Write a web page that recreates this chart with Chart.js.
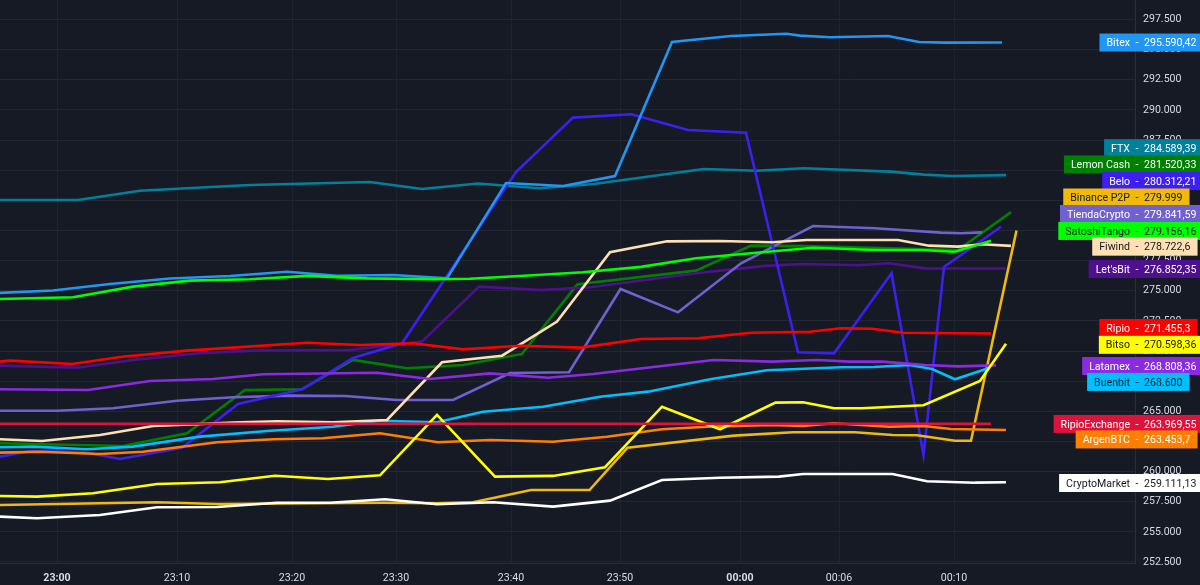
<!DOCTYPE html>
<html>
<head>
    <title>Dólar cripto por exchange</title>
    <script src="https://cdn.jsdelivr.net/npm/chart.js"></script>
    <style>
        html, body { margin: 0; background: #161a25; }
        canvas { display: block; }
    </style>
</head>
<body>
    <canvas id="priceChart" width="1200" height="585"></canvas>

    <script>
        // Eje X: posición de barra (las velas no son uniformes en el tiempo)
        const timeBars = [5.7, 17.7, 29.2, 39.6, 51.1, 62, 74, 83.9, 95.4];
        const timeLabels = ['23:00', '23:10', '23:20', '23:30', '23:40', '23:50', '00:00', '00:06', '00:10'];
        const boldLabels = ['23:00', '00:00'];
        const priceTicks = [252500, 255000, 257500, 260000, 262500, 265000, 267500, 270000, 272500, 275000, 277500, 280000, 282500, 285000, 287500, 290000, 292500, 295000, 297500];

        const bitexBars = [0, 5.3, 11, 17, 23, 28.7, 33.7, 39.3, 44.7, 50.6, 56.3, 61.5, 67.2, 73.1, 78.65, 80, 83, 88.8, 91.9, 94.5, 100.2];
        const bitexValues = [274820, 275020, 275560, 276020, 276230, 276580, 276250, 276310, 276030, 283940, 283690, 284520, 295640, 296130, 296320, 296160, 296030, 296130, 295640, 295580, 295590];

        const ftxBars = [0, 7.8, 14, 18.7, 25, 37, 42.2, 47.8, 53.9, 59.4, 70.4, 75.6, 80.4, 89, 92.4, 95.2, 100.6];
        const ftxValues = [282530, 282530, 283300, 283500, 283770, 284020, 283440, 283900, 283500, 283860, 285100, 284960, 285160, 284880, 284630, 284520, 284589];

        const lemonBars = [0, 12.3, 18.7, 24.5, 30.2, 35.3, 40.7, 46.3, 52.2, 57.75, 69.6, 75.1, 80.3, 95.8, 101.1];
        const lemonValues = [262350, 262120, 263180, 266770, 266830, 269260, 268570, 268840, 269760, 275540, 276670, 278740, 278710, 278380, 281520];

        const beloBars = [0, 3, 8.3, 12, 18.2, 23.8, 30.2, 35.3, 40.2, 51.6, 57.3, 63.15, 68.8, 74.6, 79.8, 83.4, 89.15, 92.35, 94.4, 100.1];
        const beloValues = [261240, 261710, 261630, 261050, 261980, 265610, 266830, 269420, 270640, 284850, 289360, 289640, 288340, 288110, 269900, 269810, 276450, 261380, 276980, 280312];

        const binanceBars = [0, 15.7, 21.7, 38.3, 43.7, 47.3, 53.1, 58.95, 62.75, 73.4, 79.3, 85.5, 89.25, 91.7, 95.5, 97.1, 101.65];
        const binanceValues = [257230, 257450, 257310, 257420, 257370, 257450, 258470, 258470, 261980, 262980, 263260, 263260, 263040, 263010, 262560, 262560, 279999];

        const tiendaBars = [0, 5.7, 11.3, 17.7, 23.3, 29, 34.5, 39.7, 45.3, 51, 56.9, 62.05, 67.8, 74.1, 81.3, 87.5, 94.1, 96.1, 98.2];
        const tiendaValues = [265050, 265050, 265250, 265880, 266160, 266300, 266270, 265940, 265940, 268180, 268240, 275150, 273210, 277280, 280370, 280180, 279820, 279770, 279841];

        const satoshiBars = [0, 7.3, 13.3, 19, 25, 30.7, 36.7, 43.3, 47, 52, 58.3, 64.1, 69.6, 75.1, 81.3, 87.5, 92, 95.5, 99.1];
        const satoshiValues = [274320, 274460, 275340, 275840, 275950, 276230, 276030, 275950, 276000, 276230, 276530, 276980, 277690, 278110, 278570, 278380, 278380, 278240, 279156];

        const fiwindBars = [0, 4.2, 10, 15.3, 23.3, 27.7, 33.3, 38.7, 44.2, 50.2, 52.4, 55.7, 61, 66.7, 72, 77.2, 80.65, 89.8, 92.9, 95.8, 98.2, 101.1];
        const fiwindValues = [262680, 262540, 263040, 263780, 264060, 264170, 264090, 264280, 269070, 269610, 270730, 272440, 278190, 279100, 279130, 279020, 279210, 279210, 278740, 278660, 278860, 278723];

        const letsbitBars = [0, 7.7, 13.3, 20, 25.3, 35, 42.2, 47.9, 54.1, 59, 69.6, 76.5, 80.3, 85.8, 88.9, 92.5, 100.6];
        const letsbitValues = [268790, 268620, 269260, 269810, 270030, 270090, 270780, 275340, 275060, 275290, 276450, 277060, 277220, 277110, 277280, 276860, 276852];

        const ripioBars = [0, 1, 7.2, 12.2, 18.7, 30.7, 36, 41.3, 46.3, 52.1, 58.1, 64.1, 69.8, 75.1, 81, 84.1, 87.2, 90.3, 99.1];
        const ripioValues = [269120, 269200, 268930, 269530, 270030, 270690, 270500, 270640, 270140, 270440, 270280, 271000, 271060, 271520, 271600, 271890, 271850, 271520, 271455];

        const bitsoBars = [0, 3.7, 9.3, 15.7, 22, 27.5, 32.8, 38, 43.7, 49.5, 55.3, 60.5, 66.2, 72, 77.55, 80.3, 83.4, 86.2, 92.35, 98, 100.6];
        const bitsoValues = [257980, 257920, 258200, 258970, 259110, 259660, 259390, 259690, 264700, 259580, 259640, 260360, 265380, 263510, 265720, 265750, 265250, 265250, 265500, 267520, 270598];

        const latamexBars = [0, 8.8, 15, 21.3, 26.3, 37.7, 43, 49, 54.8, 59.3, 71.35, 77.2, 81.7, 84.95, 88.2, 92.5, 95.8, 99.6];
        const latamexValues = [266830, 266770, 267520, 267680, 268070, 268200, 267680, 268150, 267790, 268100, 269260, 269120, 269260, 269120, 269120, 268840, 268730, 268808];

        const buenbitBars = [0, 3.3, 8.7, 13.3, 20, 26.7, 33.3, 38, 43.7, 48.3, 54.3, 60, 64.8, 71, 76.7, 84.1, 87.4, 91, 93.2, 95.5, 98.9];
        const buenbitValues = [262020, 262070, 261850, 262070, 262900, 263370, 263720, 264220, 264090, 264970, 265380, 266210, 266630, 267660, 268400, 268650, 268680, 268840, 268510, 267660, 268600];

        const ripioExBars = [0, 30, 60, 80, 90, 99.1];
        const ripioExValues = [263970, 263970, 263970, 263970, 263970, 263970];

        const argenBars = [0, 4, 10, 14.3, 21.7, 27.3, 32.3, 38, 43.8, 49, 55.3, 60.7, 66.2, 70.7, 77.2, 80.3, 83.4, 88.9, 92.35, 95.1, 100.6];
        const argenValues = [261570, 261650, 261460, 261650, 262430, 262680, 262760, 263180, 262430, 262620, 262480, 262890, 263510, 263720, 263870, 263780, 264010, 263720, 263780, 263530, 263454];

        const cryptoBars = [0, 3.7, 10, 15.7, 21.7, 27.7, 33, 38.5, 43.7, 49.3, 55.3, 61, 66.2, 72, 77.9, 80.3, 89.25, 92.7, 97.5, 100.6];
        const cryptoValues = [256260, 256130, 256400, 257040, 257060, 257420, 257420, 257700, 257290, 257450, 257090, 257590, 259300, 259490, 259580, 259800, 259800, 259200, 259080, 259111];

        // Nombre y último precio como los muestra la etiqueta
        const tagNames = ['Bitex', 'FTX', 'Lemon Cash', 'Belo', 'Binance P2P', 'TiendaCrypto', 'SatoshiTango', 'Fiwind', "Let'sBit", 'Ripio', 'Bitso', 'Latamex', 'Buenbit', 'RipioExchange', 'ArgenBTC', 'CryptoMarket'];
        const tagPrices = ['295.590,42', '284.589,39', '281.520,33', '280.312,21', '279.999', '279.841,59', '279.156,16', '278.722,6', '276.852,35', '271.455,3', '270.598,36', '268.808,36', '268.600', '263.969,55', '263.453,7', '259.111,13'];

        // Estilo de cada exchange; shift = cuanto se corre la etiqueta para no pisarse
        const styles = [
            { bars: bitexBars, values: bitexValues, color: '#2196f3', text: '#ffffff', shift: 0 },
            { bars: ftxBars, values: ftxValues, color: '#00809b', text: '#ffffff', shift: -27 },
            { bars: lemonBars, values: lemonValues, color: '#008000', text: '#ffffff', shift: -47.7 },
            { bars: beloBars, values: beloValues, color: '#3d20f0', text: '#ffffff', shift: -45.7 },
            { bars: binanceBars, values: binanceValues, color: '#f0b90b', text: '#131722', shift: -33 },
            { bars: tiendaBars, values: tiendaValues, color: '#7060d0', text: '#ffffff', shift: -18.4 },
            { bars: satoshiBars, values: satoshiValues, color: '#00ff00', text: '#131722', shift: -9.7 },
            { bars: fiwindBars, values: fiwindValues, color: '#ffe0b2', text: '#131722', shift: 0.8 },
            { bars: letsbitBars, values: letsbitValues, color: '#4f1090', text: '#ffffff', shift: 0.6 },
            { bars: ripioBars, values: ripioValues, color: '#ff0000', text: '#ffffff', shift: -5.5 },
            { bars: bitsoBars, values: bitsoValues, color: '#ffff00', text: '#131722', shift: 1 },
            { bars: latamexBars, values: latamexValues, color: '#8a2be2', text: '#ffffff', shift: 0.6 },
            { bars: buenbitBars, values: buenbitValues, color: '#00bfff', text: '#131722', shift: 14 },
            { bars: ripioExBars, values: ripioExValues, color: '#dc143c', text: '#ffffff', shift: 0.2 },
            { bars: argenBars, values: argenValues, color: '#ff8000', text: '#ffffff', shift: 9.5 },
            { bars: cryptoBars, values: cryptoValues, color: '#ffffff', text: '#131722', shift: 0.7 }
        ];

        // Orden de dibujo: el primero queda arriba
        const layerOrder = ['RipioExchange', 'CryptoMarket', 'Bitso', 'SatoshiTango', 'Ripio', 'Latamex', 'Fiwind', 'Buenbit', 'ArgenBTC', 'Binance P2P', 'Bitex', 'Belo', 'TiendaCrypto', "Let'sBit", 'Lemon Cash', 'FTX'];

        const axisFont = 'Roboto';

        const priceTags = {
            id: 'priceTags',
            afterDraw(chart) {
                const ctx = chart.ctx;
                const yScale = chart.scales.y;
                const nameRight = 1130;
                const priceLeft = 1144;
                ctx.save();
                ctx.font = '10.6px ' + axisFont;
                ctx.textBaseline = 'middle';
                styles.forEach((s, i) => {
                    const last = s.values[s.values.length - 1];
                    const y = yScale.getPixelForValue(last) + s.shift;
                    const left = nameRight - ctx.measureText(tagNames[i]).width - 7;
                    const right = priceLeft + ctx.measureText(tagPrices[i]).width + 7;
                    ctx.fillStyle = s.color;
                    ctx.fillRect(left, y - 9, right - left, 18);
                    ctx.fillStyle = s.text;
                    ctx.textAlign = 'right';
                    ctx.fillText(tagNames[i], nameRight, y + 1);
                    ctx.textAlign = 'center';
                    ctx.fillText('-', 1137, y + 1);
                    ctx.textAlign = 'left';
                    ctx.fillText(tagPrices[i], priceLeft, y + 1);
                });
                ctx.restore();
            }
        };

        const ctx = document.getElementById('priceChart').getContext('2d');
        new Chart(ctx, {
            type: 'line',
            data: {
                datasets: layerOrder.map((name) => {
                    const s = styles[tagNames.indexOf(name)];
                    return {
                        label: name,
                        data: s.bars.map((b, j) => ({ x: b, y: s.values[j] })),
                        borderColor: s.color,
                        borderWidth: 2.6,
                        pointRadius: 0,
                        tension: 0,
                        fill: false
                    };
                })
            },
            options: {
                responsive: false,
                animation: false,
                devicePixelRatio: 1,
                layout: { padding: 0 },
                plugins: { legend: { display: false }, tooltip: { enabled: false } },
                scales: {
                    x: {
                        type: 'linear',
                        min: 0,
                        max: 113.5,
                        afterBuildTicks(scale) {
                            scale.ticks = timeBars.map((v) => ({ value: v }));
                        },
                        afterFit(scale) {
                            scale.height = 22;
                            scale.paddingLeft = 0;
                            scale.paddingRight = 0;
                        },
                        grid: { color: '#1f232e', tickLength: 0 },
                        border: { color: '#2a2e39' },
                        ticks: {
                            autoSkip: false,
                            maxRotation: 0,
                            padding: 9,
                            color: '#d8dbe3',
                            font: (c) => ({
                                family: axisFont,
                                size: 10.6,
                                weight: boldLabels.includes(timeLabels[c.index]) ? 'bold' : 'normal'
                            }),
                            callback: (value, index) => timeLabels[index]
                        }
                    },
                    y: {
                        position: 'right',
                        min: 252417,
                        max: 299118,
                        afterBuildTicks(scale) {
                            scale.ticks = priceTicks.map((v) => ({ value: v }));
                        },
                        afterFit(scale) {
                            scale.width = 65;
                            scale.paddingTop = 0;
                            scale.paddingBottom = 0;
                        },
                        grid: { color: '#232733', tickLength: 0 },
                        border: { color: '#2a2e39' },
                        ticks: {
                            padding: 8,
                            color: '#d8dbe3',
                            font: { family: axisFont, size: 10.6 },
                            callback: (value) => value.toLocaleString('de-DE', { minimumFractionDigits: 0 })
                        }
                    }
                }
            },
            plugins: [priceTags]
        });
    </script>
</body>
</html>
